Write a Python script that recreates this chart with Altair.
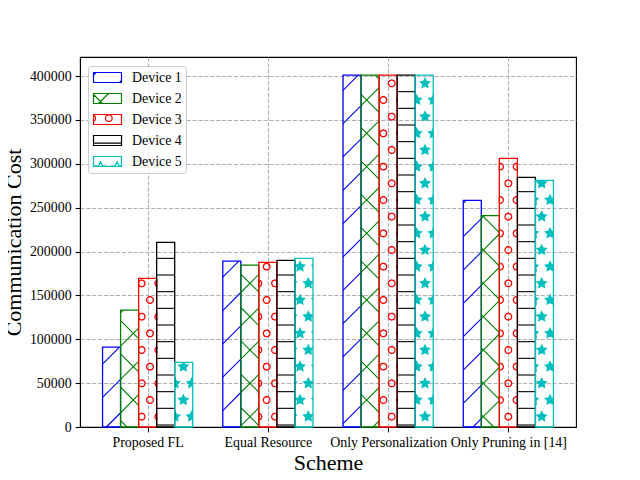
import json
import math
import altair as alt
import pandas as pd

# ---------------- data ----------------
schemes = ["Proposed FL", "Equal Resource", "Only Personalization", "Only Pruning in [14]"]
devices = ["Device 1", "Device 2", "Device 3", "Device 4", "Device 5"]
device_1 = [91000, 189000, 401000, 258300]
device_2 = [133300, 184600, 401000, 240800]
device_3 = [169400, 187600, 401000, 306200]
device_4 = [210400, 189900, 401000, 284500]
device_5 = [73700, 192200, 401000, 281100]
values_by_device = [device_1, device_2, device_3, device_4, device_5]
y_ticks = [0, 50000, 100000, 150000, 200000, 250000, 300000, 350000, 400000]

# ---------------- styles / layout ----------------
colors = ["#0000ff", "#008000", "#ff0000", "#000000", "#00bfbf"]
hatches = ["/", "x", "o", "-", "*"]
FONT = "Liberation Serif"
PLOT_LEFT, PLOT_TOP = 80, 57
W, H = 496, 370
BOTTOM = PLOT_TOP + H
XMIN, XMAX = -0.5625, 3.5625
YMAX = 421700
BAR_W = 0.15
P = 100 / 6.0  # hatch pitch in px


def to_px_x(v):
    return PLOT_LEFT + (v - XMIN) / (XMAX - XMIN) * W


def to_px_y(v):
    return PLOT_TOP + H - v / YMAX * H


def to_dx(p):
    return XMIN + (p - PLOT_LEFT) / W * (XMAX - XMIN)


def to_dy(p):
    return (PLOT_TOP + H - p) / H * YMAX


bars = []
for g, s in enumerate(schemes):
    for d, dev in enumerate(devices):
        x0 = g + (d - 2) * BAR_W - BAR_W / 2
        bars.append(dict(scheme=s, device=dev, x=x0, x2=x0 + BAR_W,
                         y0=0, value=values_by_device[d][g]))
bars_df = pd.DataFrame(bars)


# ---------------- hatch helpers (pixel space) ----------------
def diag_segments(L, R, T, B, kind):
    segs = []
    step = 2 * P
    if kind == "/":  # x + y = c
        k0, k1 = math.floor((L + T) / step), math.ceil((R + B) / step)
        for k in range(k0, k1 + 1):
            c = k * step
            lo, hi = max(L, c - B), min(R, c - T)
            if hi - lo > 0.3:
                segs.append((lo, c - lo, hi, c - hi))
    else:  # x - y = c
        k0, k1 = math.floor((L - B) / step), math.ceil((R - T) / step)
        for k in range(k0, k1 + 1):
            c = k * step
            lo, hi = max(L, T + c), min(R, B + c)
            if hi - lo > 0.3:
                segs.append((lo, lo - c, hi, hi - c))
    return segs


def hline_segments(L, R, T, B):
    segs = []
    k = math.ceil((T - P / 2) / P)
    while P / 2 + k * P < B:
        y = P / 2 + k * P
        if y > T + 0.8:
            segs.append((L, y, R, y))
        k += 1
    return segs


def grid_centers(L, R, T, B, margin):
    pts = []
    for k in range(math.floor((T - margin) / P), math.ceil((B + margin) / P) + 1):
        y = k * P
        off = 0 if k % 2 == 0 else P / 2
        for j in range(math.floor((L - margin - off) / P), math.ceil((R + margin - off) / P) + 1):
            pts.append((off + j * P, y))
    return pts


def clip_poly(pts, L, R, T, B):
    def clip(pts, inside, inter):
        out = []
        for i in range(len(pts)):
            cur, prev = pts[i], pts[i - 1]
            if inside(cur):
                if not inside(prev):
                    out.append(inter(prev, cur))
                out.append(cur)
            elif inside(prev):
                out.append(inter(prev, cur))
        return out

    def ix(a, b, xv):
        t = (xv - a[0]) / (b[0] - a[0])
        return (xv, a[1] + t * (b[1] - a[1]))

    def iy(a, b, yv):
        t = (yv - a[1]) / (b[1] - a[1])
        return (a[0] + t * (b[0] - a[0]), yv)

    for inside, inter in [
        (lambda p: p[0] >= L, lambda a, b: ix(a, b, L)),
        (lambda p: p[0] <= R, lambda a, b: ix(a, b, R)),
        (lambda p: p[1] >= T, lambda a, b: iy(a, b, T)),
        (lambda p: p[1] <= B, lambda a, b: iy(a, b, B)),
    ]:
        if len(pts) < 2:
            return []
        pts = clip(pts, inside, inter)
    return pts


def poly_area(pts):
    a = 0
    for i in range(len(pts)):
        x1, y1 = pts[i - 1]
        x2, y2 = pts[i]
        a += x1 * y2 - x2 * y1
    return abs(a) / 2


def star_pts(cx, cy, r):
    pts = []
    for i in range(10):
        ang = math.pi / 2 + i * math.pi / 5
        rr = r if i % 2 == 0 else r * 0.5
        pts.append((cx + rr * math.cos(ang), cy - rr * math.sin(ang)))
    return pts


def circle_pts(cx, cy, r, n=32):
    return [(cx + r * math.cos(2 * math.pi * i / n), cy + r * math.sin(2 * math.pi * i / n)) for i in range(n)]


def path_of(pts, cx, cy, scale=1.0, close=True):
    s = "M" + "L".join(f"{(x - cx) / scale:.3f},{(y - cy) / scale:.3f}" for x, y in pts)
    return s + ("Z" if close else "")


STAR_R = 6.3
CIRC_R = 3.33


def bar_hatch(L, R, T, B, kind):
    segs, circs, strs = [], [], []
    if kind == "/":
        segs = diag_segments(L, R, T, B, "/")
    elif kind == "x":
        segs = diag_segments(L, R, T, B, "/") + diag_segments(L, R, T, B, "\\")
    elif kind == "-":
        segs = hline_segments(L, R, T, B)
    elif kind == "o":
        for cx, cy in grid_centers(L, R, T, B, CIRC_R + 1):
            cl = clip_poly(circle_pts(cx, cy, CIRC_R), L, R, T, B)
            if len(cl) >= 3 and poly_area(cl) > 0.8:
                circs.append((cx, cy, cl))
    elif kind == "*":
        for cx, cy in grid_centers(L, R, T, B, STAR_R + 1):
            cl = clip_poly(star_pts(cx, cy, STAR_R), L, R, T, B)
            if len(cl) >= 3 and poly_area(cl) > 0.8:
                strs.append((cx, cy, cl))
    return segs, circs, strs


line_rows, circle_rows, star_rows = [], [], []
for row in bars:
    d = devices.index(row["device"])
    L, R = to_px_x(row["x"]), to_px_x(row["x2"])
    T, B = to_px_y(row["value"]), BOTTOM
    segs, circs, strs = bar_hatch(L, R, T, B, hatches[d])
    for x1, y1, x2, y2 in segs:
        line_rows.append(dict(device=row["device"], x=to_dx(x1), y=to_dy(y1), x2=to_dx(x2), y2=to_dy(y2)))
    for cx, cy, cl in circs:
        circle_rows.append(dict(x=to_dx(cx), y=to_dy(cy), shp=path_of(cl, cx, cy)))
    for cx, cy, cl in strs:
        star_rows.append(dict(x=to_dx(cx), y=to_dy(cy), shp=path_of(cl, cx, cy)))

lines_df = pd.DataFrame(line_rows)
circles_df = pd.DataFrame(circle_rows)
stars_df = pd.DataFrame(star_rows)

# ---------------- legend symbols (hatched patches) ----------------
LEG_SIZE = 169
LEG_SCALE = math.sqrt(LEG_SIZE) / 2
legend_paths = []
for i, dev in enumerate(devices):
    cy = 76 + 21 * i
    L, R, T, B = 93, 121, cy - 5, cy + 5
    cx = (L + R) / 2
    parts = [path_of([(L, T), (R, T), (R, B), (L, B)], cx, cy, LEG_SCALE)]
    segs, circs, strs = bar_hatch(L, R, T, B, hatches[i])
    for x1, y1, x2, y2 in segs:
        parts.append(path_of([(x1, y1), (x2, y2)], cx, cy, LEG_SCALE, close=False))
    for _, _, cl in circs + strs:
        parts.append(path_of(cl, cx, cy, LEG_SCALE))
    legend_paths.append("".join(parts))
legend_df = pd.DataFrame({"device": devices})

# ---------------- chart ----------------
x_scale = alt.Scale(domain=[XMIN, XMAX], nice=False, zero=False)
y_scale = alt.Scale(domain=[0, YMAX], nice=False, zero=False)
stroke_scale = alt.Scale(domain=devices, range=colors)

x_axis = alt.Axis(values=[0, 1, 2, 3], labelExpr=json.dumps(schemes) + "[round(datum.value)]",
                  title="Scheme", labelOverlap=False, labelFlush=False, titlePadding=3)
y_axis = alt.Axis(values=y_ticks, format="d", title="Communication Cost", labelFlush=False,
                  labelOverlap=False, titlePadding=4)

legend = alt.Legend(
    title=None, orient="none", legendX=8, legendY=9, padding=4,
    strokeColor="#cccccc", fillColor="rgba(255,255,255,0.8)", cornerRadius=3,
    labelFont=FONT, labelFontSize=13.9, labelColor="black", labelOffset=17,
    symbolSize=LEG_SIZE, symbolStrokeWidth=1.2, rowPadding=6, symbolOpacity=1,
    symbolOffset=8,
)

stars_layer = alt.Chart(stars_df).mark_point(
    filled=True, fill="#00bfbf", strokeWidth=0, size=4, opacity=1
).encode(
    x=alt.X("x:Q", scale=x_scale, axis=x_axis),
    y=alt.Y("y:Q", scale=y_scale, axis=y_axis),
    shape=alt.Shape("shp:N", scale=None, legend=None),
)

circles_layer = alt.Chart(circles_df).mark_point(
    filled=False, stroke="#ff0000", strokeWidth=1.3, size=4, opacity=1
).encode(
    x=alt.X("x:Q", scale=x_scale, axis=x_axis),
    y=alt.Y("y:Q", scale=y_scale, axis=y_axis),
    shape=alt.Shape("shp:N", scale=None, legend=None),
)

lines_layer = alt.Chart(lines_df).mark_rule(strokeWidth=1.1).encode(
    x=alt.X("x:Q", scale=x_scale, axis=x_axis),
    x2="x2:Q",
    y=alt.Y("y:Q", scale=y_scale, axis=y_axis),
    y2="y2:Q",
    stroke=alt.Stroke("device:N", scale=stroke_scale, legend=None),
)

bars_layer = alt.Chart(bars_df).mark_rect(fill="white", fillOpacity=0, strokeWidth=1.3).encode(
    x=alt.X("x:Q", scale=x_scale, axis=x_axis),
    x2="x2:Q",
    y=alt.Y("y0:Q", scale=y_scale, axis=y_axis),
    y2="value:Q",
    stroke=alt.Stroke("device:N", scale=stroke_scale, legend=None),
)

legend_layer = alt.Chart(legend_df).transform_filter("false").mark_point(
    filled=False, size=LEG_SIZE, opacity=1, strokeWidth=1.2
).encode(
    x=alt.X("x:Q", scale=x_scale, axis=x_axis),
    y=alt.Y("y:Q", scale=y_scale, axis=y_axis),
    stroke=alt.Stroke("device:N", scale=stroke_scale, legend=legend),
    shape=alt.Shape("device:N", scale=alt.Scale(domain=devices, range=legend_paths), legend=legend),
)

chart = alt.layer(stars_layer, circles_layer, lines_layer, bars_layer, legend_layer).resolve_scale(
    stroke="independent", shape="independent"
).properties(
    width=W, height=H,
    padding={"left": PLOT_LEFT - 8, "top": PLOT_TOP - 8, "right": 50, "bottom": 47},
    autosize=alt.AutoSizeParams(type="none"),
    background="white",
).configure_view(
    stroke="black", strokeWidth=1.1
).configure_axis(
    labelFont=FONT, labelFontSize=13.9, labelColor="black", labelPadding=4,
    titleFont=FONT, titleFontSize=22, titleFontWeight="normal", titleColor="black",
    domainColor="black", domainWidth=1.1, tickColor="black", tickWidth=1.1, tickSize=4.9,
    gridColor="#b0b0b0", gridWidth=1.1, gridDash=[4.1, 1.8],
).configure_legend(
    labelFont=FONT, labelFontSize=13.9, labelColor="black",
)

chart.save("out.html", embed_options={"renderer": "svg", "actions": False})
